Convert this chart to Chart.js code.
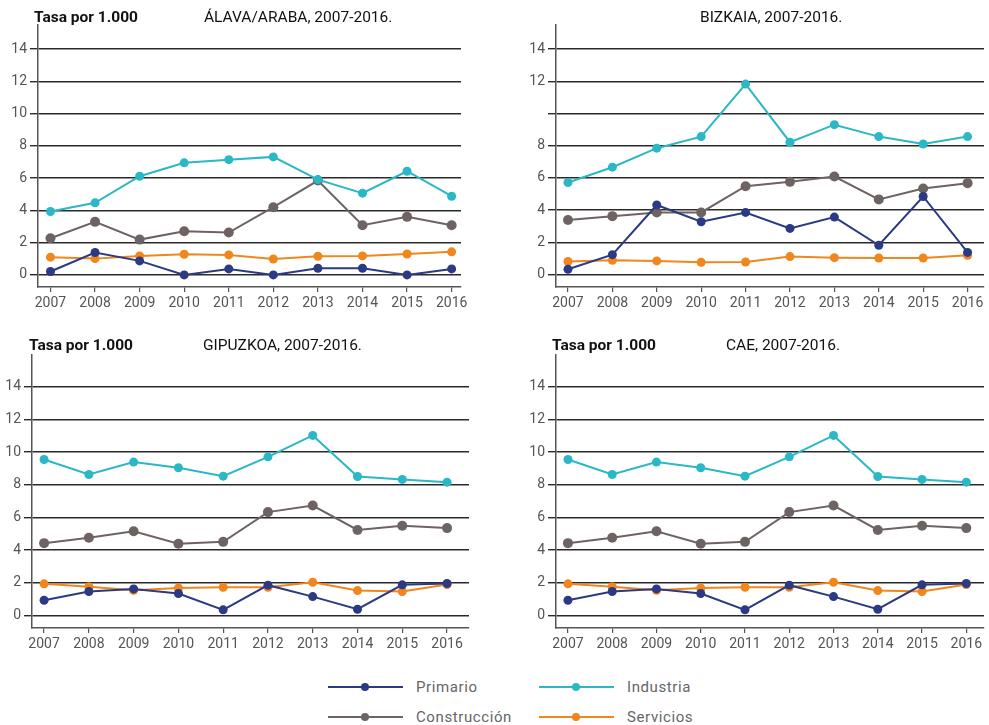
<!DOCTYPE html>
<html>
<head>
<meta charset="utf-8">
<script src="https://cdn.jsdelivr.net/npm/chart.js@4/dist/chart.umd.min.js"></script>
<style>
  body { margin: 0; background: #fff; width: 989px; height: 725px; position: relative; overflow: hidden;
         font-family: Roboto, sans-serif; }
  canvas { position: absolute; }
  .tasa { position: absolute; font-weight: bold; font-size: 15.5px; line-height: 16px; color: #111; white-space: nowrap; }
  .tit { position: absolute; font-size: 15.5px; line-height: 16px; color: #111; white-space: nowrap; }
  .leg { position: absolute; font-size: 15px; line-height: 16px; color: #666; letter-spacing: 0.6px; white-space: nowrap; }
  .legline { position: absolute; height: 2px; width: 75px; }
  .legdot { position: absolute; width: 8px; height: 8px; border-radius: 50%; }
</style>
</head>
<body>
<canvas id="c1" width="490" height="320" style="left:0;top:0"></canvas>
<canvas id="c2" width="494" height="320" style="left:495px;top:0"></canvas>
<canvas id="c3" width="490" height="330" style="left:0;top:330px"></canvas>
<canvas id="c4" width="494" height="330" style="left:495px;top:330px"></canvas>

<div class="tasa" style="left:34px;top:9px">Tasa por 1.000</div>
<div class="tit" style="left:204px;top:9px">ÁLAVA/ARABA, 2007-2016.</div>
<div class="tit" style="left:700px;top:9px">BIZKAIA, 2007-2016.</div>
<div class="tasa" style="left:29px;top:337px">Tasa por 1.000</div>
<div class="tit" style="left:203px;top:337px">GIPUZKOA, 2007-2016.</div>
<div class="tasa" style="left:552px;top:337px">Tasa por 1.000</div>
<div class="tit" style="left:726px;top:337px">CAE, 2007-2016.</div>
<div id="legend"></div>

<script>
// años y sectores
const years = [2007, 2008, 2009, 2010, 2011, 2012, 2013, 2014, 2015, 2016];
const sectors = ['Primario', 'Industria', 'Construcción', 'Servicios'];
const colors = ['#2b3a82', '#2ab7c6', '#6e6363', '#f0861c'];
const yTicks = [0, 2, 4, 6, 8, 10, 12, 14];

// Álava/Araba
const alavaPrimario = [0.21, 1.39, 0.87, 0.0, 0.37, 0.0, 0.41, 0.41, 0.0, 0.37];
const alavaIndustria = [3.93, 4.47, 6.12, 6.95, 7.15, 7.32, 5.91, 5.07, 6.43, 4.88];
const alavaConstruccion = [2.27, 3.29, 2.19, 2.71, 2.63, 4.2, 5.85, 3.08, 3.6, 3.08];
const alavaServicios = [1.1, 1.01, 1.18, 1.28, 1.24, 0.99, 1.16, 1.18, 1.3, 1.43];

// Bizkaia
const bizkaiaPrimario = [0.33, 1.24, 4.32, 3.28, 3.86, 2.87, 3.57, 1.82, 4.85, 1.38];
const bizkaiaIndustria = [5.72, 6.67, 7.85, 8.57, 11.83, 8.22, 9.31, 8.57, 8.11, 8.57];
const bizkaiaConstruccion = [3.39, 3.63, 3.86, 3.86, 5.49, 5.76, 6.09, 4.67, 5.35, 5.68];
const bizkaiaServicios = [0.81, 0.89, 0.85, 0.76, 0.78, 1.12, 1.05, 1.03, 1.03, 1.2];

// Gipuzkoa
const gipuzkoaPrimario = [0.94, 1.47, 1.63, 1.35, 0.35, 1.86, 1.16, 0.39, 1.88, 1.96];
const gipuzkoaIndustria = [9.55, 8.63, 9.39, 9.04, 8.53, 9.71, 11.02, 8.51, 8.33, 8.16];
const gipuzkoaConstruccion = [4.43, 4.76, 5.16, 4.39, 4.51, 6.33, 6.73, 5.24, 5.49, 5.35];
const gipuzkoaServicios = [1.94, 1.76, 1.55, 1.69, 1.73, 1.73, 2.04, 1.53, 1.47, 1.9];

// CAE
const caePrimario = [0.94, 1.47, 1.63, 1.35, 0.35, 1.86, 1.16, 0.39, 1.88, 1.96];
const caeIndustria = [9.55, 8.63, 9.39, 9.04, 8.53, 9.71, 11.02, 8.51, 8.33, 8.16];
const caeConstruccion = [4.43, 4.76, 5.16, 4.39, 4.51, 6.33, 6.73, 5.24, 5.49, 5.35];
const caeServicios = [1.94, 1.76, 1.55, 1.69, 1.73, 1.73, 2.04, 1.53, 1.47, 1.9];

Chart.defaults.font.family = 'Roboto, sans-serif';

const makeDatasets = (series) => series.map((vals, i) => ({
  label: sectors[i],
  data: vals.map((v, k) => ({ x: years[k], y: v })),
  borderColor: colors[i],
  backgroundColor: colors[i],
  borderWidth: 2,
  pointRadius: i === 2 ? 5 : 4.5,
  pointBorderWidth: 0,
  tension: 0
}));

// orden de dibujo: servicios encima, luego industria, primario, construcción
const makeChart = (id, series, o) => {
  const ds = makeDatasets(series);
  ds[0].order = 1; ds[1].order = 2; ds[3].order = 3; ds[2].order = 4;
  return new Chart(document.getElementById(id), {
    type: 'line',
    data: { datasets: ds },
    options: {
      responsive: false,
      animation: false,
      layout: { padding: { top: o.padTop, right: o.padRight, left: 0, bottom: 0 } },
      plugins: { legend: { display: false }, tooltip: { enabled: false } },
      scales: {
        x: {
          type: 'linear',
          min: o.xMin, max: o.xMax,
          afterBuildTicks: (s) => { s.ticks = years.map(v => ({ value: v })); },
          afterFit: (s) => { s.height = o.xH; },
          grid: { drawOnChartArea: false, drawTicks: true, tickLength: 5, color: '#555', lineWidth: 1.2 },
          border: { display: true, color: '#555', width: 1.5 },
          ticks: { color: '#555', font: { size: 14 }, padding: 3, maxRotation: 0, autoSkip: false,
                   callback: (v) => String(v) }
        },
        y: {
          min: o.yMin, max: o.yMax,
          afterBuildTicks: (s) => { s.ticks = yTicks.map(v => ({ value: v })); },
          afterFit: (s) => { s.width = o.yW; },
          grid: { color: '#2a2a2a', lineWidth: 1.4, drawTicks: true, tickLength: 8 },
          border: { display: true, color: '#555', width: 1.5 },
          ticks: { color: '#555', font: { size: 14 }, padding: 3, autoSkip: false,
                   callback: (v) => (o.skip10 && v === 10) ? '' : String(v) }
        }
      }
    }
  });
};

makeChart('c1', [alavaPrimario, alavaIndustria, alavaConstruccion, alavaServicios],
  { padTop: 25, padRight: 29, xH: 33, yW: 38, xMin: 2006.72, xMax: 2016.21, yMin: -0.75, yMax: 15.5 });
makeChart('c2', [bizkaiaPrimario, bizkaiaIndustria, bizkaiaConstruccion, bizkaiaServicios],
  { padTop: 25, padRight: 0, xH: 33, yW: 61, xMin: 2006.73, xMax: 2016.37, yMin: -0.77, yMax: 15.5, skip10: true });
makeChart('c3', [gipuzkoaPrimario, gipuzkoaIndustria, gipuzkoaConstruccion, gipuzkoaServicios],
  { padTop: 25, padRight: 21, xH: 32, yW: 32, xMin: 2006.73, xMax: 2016.49, yMin: -0.76, yMax: 15.94 });
makeChart('c4', [caePrimario, caeIndustria, caeConstruccion, caeServicios],
  { padTop: 25, padRight: 0, xH: 32, yW: 61, xMin: 2006.73, xMax: 2016.4, yMin: -0.76, yMax: 15.94 });

// leyenda
const legPos = [[328, 687], [539, 687], [328, 717], [539, 717]];
const legend = document.getElementById('legend');
sectors.forEach((name, i) => {
  const [x, y] = legPos[i];
  legend.insertAdjacentHTML('beforeend',
    `<div class="legline" style="left:${x}px;top:${y - 1}px;background:${colors[i]}"></div>` +
    `<div class="legdot" style="left:${x + 33}px;top:${y - 4}px;background:${colors[i]}"></div>` +
    `<div class="leg" style="left:${x + 88}px;top:${y - 8}px">${name}</div>`);
});
</script>
</body>
</html>
